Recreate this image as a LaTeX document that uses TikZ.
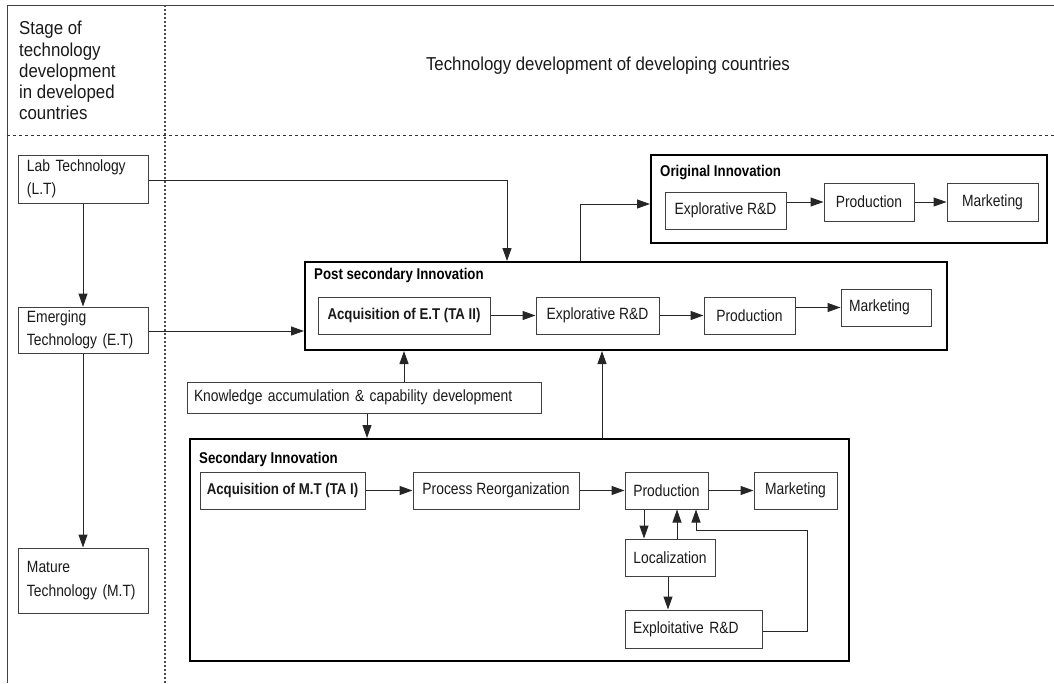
\documentclass[tikz,border=0pt]{standalone}
\usepackage{fontspec}
\setmainfont{Liberation Sans}[FakeStretch=0.9]
\newfontfamily\boxfont{Liberation Sans}[FakeStretch=0.85]
\usetikzlibrary{arrows.meta}
\begin{document}
\begin{tikzpicture}[x=1pt,y=-1pt,
  txt/.style={font=\boxfont\fontsize{16.3}{23.5}\selectfont, text=black!90},
  hdr/.style={font=\fontsize{18.7}{21.3}\selectfont, text=black!90, inner sep=0pt},
  bx/.style={draw=black!75, line width=1pt, inner sep=0pt, txt, align=center},
  bbx/.style={draw=black, line width=2pt, inner sep=0pt},
  ttl/.style={font=\boxfont\fontsize{15.6}{17}\selectfont\bfseries, anchor=west, inner sep=0pt},
  bld/.style={font=\boxfont\fontsize{15.6}{17}\selectfont\bfseries},
  arr/.style={draw=black!85, line width=1pt, -{Triangle[length=13pt,width=9pt]}},
  ln/.style={draw=black!75, line width=1pt}
]
\useasboundingbox (0,0) rectangle (1054,683);
% frame and separators
\draw[ln] (7,683) -- (7,5) -- (1054,5);
\draw[draw=black!80, line width=1pt, dash pattern=on 3pt off 3pt] (7,135) -- (1054,135);
\draw[draw=black!70, line width=1.2pt, dash pattern=on 2pt off 2pt] (165,5) -- (165,683);
% headers
\node[hdr, anchor=north west, align=left] (hleft) at (19,21)
  {Stage of\\technology\\development\\in developed\\countries};
\node[hdr] (hright) at (608,66) {Technology development of developing countries};
% left column
\node[bx, minimum width=130, minimum height=48, text width=112, align=left] (LT) at (83,179) {Lab Technology\\(L.T)};
\node[bx, minimum width=130, minimum height=46, text width=112, align=left] (ET) at (83,330) {Emerging\\Technology (E.T)};
\node[bx, minimum width=130, minimum height=65, text width=112, align=left] (MT) at (83,580.5) {Mature\\Technology (M.T)};
% original innovation
\node[bbx, minimum width=396, minimum height=88] (orig) at (849,199) {};
\node[ttl] (origt) at (660,172) {Original Innovation};
\node[bx, minimum width=121, minimum height=37] (OExp) at (725.5,210.5) {Explorative R\&D};
\node[bx, minimum width=90, minimum height=38] (OProd) at (869,202) {Production};
\node[bx, minimum width=91, minimum height=38] (OMkt) at (992.5,202) {Marketing};
% post secondary innovation
\node[bbx, minimum width=642, minimum height=88] (post) at (626,306) {};
\node[ttl] (postt) at (314,275) {Post secondary Innovation};
\node[bx, bld, minimum width=172, minimum height=37] (PAcq) at (404,315.5) {Acquisition of E.T (TA II)};
\node[bx, minimum width=123, minimum height=37] (PExp) at (597.5,315.5) {Explorative R\&D};
\node[bx, minimum width=91, minimum height=37] (PProd) at (749.5,315.5) {Production};
\node[bx, minimum width=90, minimum height=37, text width=74, align=left] (PMkt) at (886,307.5) {Marketing};
% knowledge
\node[bx, minimum width=354, minimum height=31, text width=340, align=left] (KA) at (364,397.5) {Knowledge accumulation \& capability development};
% secondary innovation
\node[bbx, minimum width=659, minimum height=222] (sec) at (519.5,550) {};
\node[ttl] (sect) at (199,459) {Secondary Innovation};
\node[bx, bld, minimum width=165, minimum height=37] (SAcq) at (282.5,490.5) {Acquisition of M.T (TA I)};
\node[bx, minimum width=166, minimum height=37] (SProc) at (496,490.5) {Process Reorganization};
\node[bx, minimum width=83, minimum height=37] (SProd) at (666.5,490.5) {Production};
\node[bx, minimum width=83, minimum height=37] (SMkt) at (795.5,490.5) {Marketing};
\node[bx, minimum width=90, minimum height=37] (Loc) at (670,557.5) {Localization};
\node[bx, minimum width=137, minimum height=38, text width=121, align=left] (Expl) at (693.5,629) {Exploitative R\&D};
% coordinates for routed connectors
\coordinate (ltturn) at (507,180);
\coordinate (origturn) at (580,204);
\coordinate (fb1) at (807,631);
\coordinate (fb2) at (807,530);
\coordinate (fb3) at (696,530);
% left column arrows
\draw[arr] (LT) -- (ET);
\draw[arr] (ET) -- (MT);
\draw[arr] (LT.east |- ltturn) -- (ltturn) -- (ltturn |- post.north);
\draw[arr] (ET.east |- 0,331) -- (post.west |- 0,331);
% post to original
\draw[arr] (origturn |- post.north) -- (origturn) -- (orig.west |- origturn);
\draw[arr] (OExp.east |- OProd.west) -- (OProd.west);
\draw[arr] (OProd) -- (OMkt);
% post chain
\draw[arr] (PAcq) -- (PExp);
\draw[arr] (PExp) -- (PProd);
\draw[arr] (PProd.east |- PMkt.west) -- (PMkt.west);
% knowledge
\draw[arr] (KA.north -| 404,0) -- (post.south -| 404,0);
\draw[arr] (KA.south -| 367,0) -- (sec.north -| 367,0);
\draw[arr] (sec.north -| 602,0) -- (post.south -| 602,0);
% secondary chain
\draw[arr] (SAcq) -- (SProc);
\draw[arr] (SProc) -- (SProd);
\draw[arr] (SProd) -- (SMkt);
\draw[arr] (SProd.south -| 644,0) -- (Loc.north -| 644,0);
\draw[arr] (Loc.north -| 677,0) -- (SProd.south -| 677,0);
\draw[arr] (Loc.south -| 668,0) -- (Expl.north -| 668,0);
\draw[arr] (Expl.east |- fb1) -- (fb1) -- (fb2) -- (fb3) -- (SProd.south -| fb3);
\end{tikzpicture}
\end{document}
